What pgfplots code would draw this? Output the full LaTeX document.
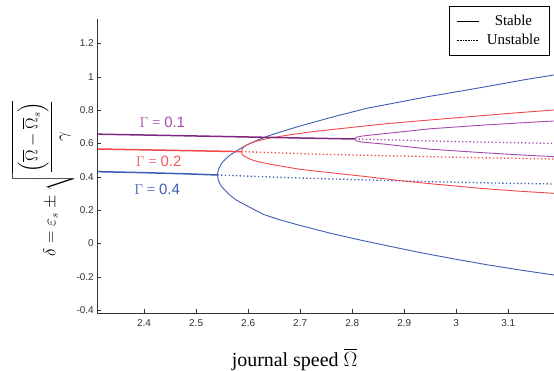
\documentclass[border=0pt]{standalone}
\usepackage{amsmath}
\usepackage{fontspec}
\setmainfont{Liberation Serif}
\newfontfamily\arial{Liberation Sans}
\usepackage{pgfplots}
\pgfplotsset{compat=1.18}

\definecolor{gblue}{RGB}{62,92,180}
\definecolor{gred}{RGB}{240,72,72}
\definecolor{gpurple}{RGB}{165,75,170}
\definecolor{gpurpledark}{RGB}{125,40,130}
\definecolor{lblred}{RGB}{240,90,90}

\begin{document}
\begin{tikzpicture}
\begin{axis}[
  at={(97.3bp,-313.3bp)}, anchor=south west,
  scale only axis, width=456.7bp, height=294.3bp,
  xmin=2.31, xmax=3.188, ymin=-0.419, ymax=1.347,
  axis x line*=bottom, axis y line*=left,
  xtick={2.4,2.5,2.6,2.7,2.8,2.9,3,3.1},
  ytick={-0.4,-0.2,0,0.2,0.4,0.6,0.8,1,1.2},
  tick align=inside, major tick length=4bp,
  tick style={black!80, line width=0.6bp},
  axis line style={black!80, line width=0.8bp},
  /pgf/number format/assume math mode=true,
  ticklabel style={font=\arial\fontsize{10}{12}\selectfont, text=black!80},
  xticklabel style={yshift=-3bp},
  xlabel={journal speed $\overline{\Omega}$},
  xlabel style={at={(axis description cs:0.432,-0.181)}, anchor=base,
                font=\fontsize{20}{23}\selectfont},
  ylabel={$\delta=\varepsilon_s\pm\sqrt{\dfrac{\Bigl(\overline{\Omega}-\overline{\Omega}_s\Bigr)}{\gamma}}$},
  ylabel style={at={(axis description cs:-0.119,0.458)}, anchor=center,
                inner sep=0pt, font=\fontsize{16}{19}\selectfont},
  legend style={at={(axis description cs:0.9897,1.044)}, anchor=north east,
                draw=black, line width=0.6bp, fill=white,
                font=\fontsize{15}{18}\selectfont,
                cells={anchor=center}, row sep=3bp,
                inner xsep=7bp, inner ysep=7bp,
                /tikz/every odd column/.style={column sep=6bp}},
  legend image code/.code={\draw (0bp,0bp) -- (22bp,0bp);},
  stable/.style={line width=0.9bp},
  flat/.style={line width=1.5bp},
  unstable/.style={line width=1.3bp, dash pattern=on 1.3bp off 2.4bp},
]
\addlegendimage{black, line width=0.6bp}
\addlegendentry{Stable}
\addlegendimage{black, line width=0.6bp, dash pattern=on 0.8bp off 0.8bp}
\addlegendentry{Unstable}

% Gamma = 0.4
\addplot[gblue, flat, forget plot] coordinates {
  (2.31,0.431) (2.40,0.425) (2.48,0.418) (2.541,0.411)};
\addplot[gblue, unstable, forget plot] coordinates {
  (2.541,0.411) (2.60,0.404) (2.66,0.397) (2.719,0.391) (2.83,0.381)
  (2.949,0.371) (3.07,0.363) (3.188,0.357)};
\addplot[gblue, stable, forget plot] coordinates {
  (2.541,0.411) (2.5425,0.440) (2.545,0.458) (2.549,0.481) (2.556,0.505)
  (2.565,0.530) (2.58,0.560) (2.597,0.591) (2.617,0.619) (2.638,0.645)
  (2.67,0.677) (2.70,0.705) (2.76,0.757) (2.828,0.811) (2.89,0.848)
  (2.949,0.883) (3.01,0.915) (3.07,0.948) (3.13,0.982) (3.188,1.011)};
\addplot[gblue, stable, forget plot] coordinates {
  (2.541,0.411) (2.5425,0.382) (2.545,0.362) (2.549,0.341) (2.556,0.318)
  (2.565,0.290) (2.577,0.261) (2.60,0.222) (2.629,0.175) (2.66,0.143)
  (2.70,0.108) (2.719,0.093) (2.76,0.060) (2.815,0.021) (2.88,-0.022)
  (2.938,-0.059) (3.0,-0.095) (3.06,-0.128) (3.12,-0.158) (3.188,-0.189)};

% Gamma = 0.2
\addplot[gred, flat, forget plot] coordinates {
  (2.31,0.567) (2.45,0.559) (2.587,0.551)};
\addplot[gred, unstable, forget plot] coordinates {
  (2.587,0.551) (2.65,0.545) (2.72,0.537) (2.83,0.529) (2.949,0.521)
  (3.07,0.513) (3.188,0.507)};
\addplot[gred, stable, forget plot] coordinates {
  (2.587,0.551) (2.5885,0.566) (2.591,0.577) (2.597,0.590) (2.606,0.603)
  (2.616,0.614) (2.64,0.632) (2.68,0.652) (2.719,0.669) (2.80,0.697)
  (2.87,0.720) (2.949,0.741) (3.05,0.767) (3.12,0.785) (3.188,0.801)};
\addplot[gred, stable, forget plot] coordinates {
  (2.587,0.551) (2.5885,0.537) (2.591,0.527) (2.597,0.516) (2.606,0.503)
  (2.62,0.490) (2.645,0.474) (2.70,0.445) (2.76,0.424) (2.828,0.401)
  (2.89,0.378) (2.949,0.359) (3.05,0.330) (3.12,0.314) (3.188,0.301)};

% Gamma = 0.1
\addplot[gpurpledark, flat, forget plot] coordinates {
  (2.31,0.656) (2.45,0.648) (2.60,0.639) (2.70,0.633) (2.805,0.627)};
\addplot[gpurple, unstable, forget plot] coordinates {
  (2.805,0.627) (2.88,0.621) (2.949,0.615) (3.07,0.607) (3.188,0.601)};
\addplot[gpurple, stable, forget plot] coordinates {
  (2.805,0.627) (2.8065,0.634) (2.81,0.639) (2.818,0.644) (2.84,0.652)
  (2.88,0.665) (2.949,0.688) (3.05,0.710) (3.12,0.723) (3.188,0.735)};
\addplot[gpurple, stable, forget plot] coordinates {
  (2.805,0.627) (2.8065,0.620) (2.81,0.614) (2.82,0.608) (2.86,0.597)
  (2.90,0.583) (2.949,0.566) (3.05,0.545) (3.12,0.532) (3.188,0.521)};

% curve labels
\node[text=gpurple, font=\fontsize{15}{18}\selectfont] at (axis cs:2.435,0.727)
  {$\Gamma$ = {\arial 0.1}};
\node[text=lblred, font=\fontsize{15}{18}\selectfont] at (axis cs:2.428,0.491)
  {$\Gamma$ = {\arial 0.2}};
\node[text=gblue, font=\fontsize{15}{18}\selectfont] at (axis cs:2.425,0.325)
  {$\Gamma$ = {\arial 0.4}};
\end{axis}
\pgfresetboundingbox
\path[use as bounding box] (0bp,0bp) rectangle (554bp,-371bp);
\end{tikzpicture}
\end{document}
